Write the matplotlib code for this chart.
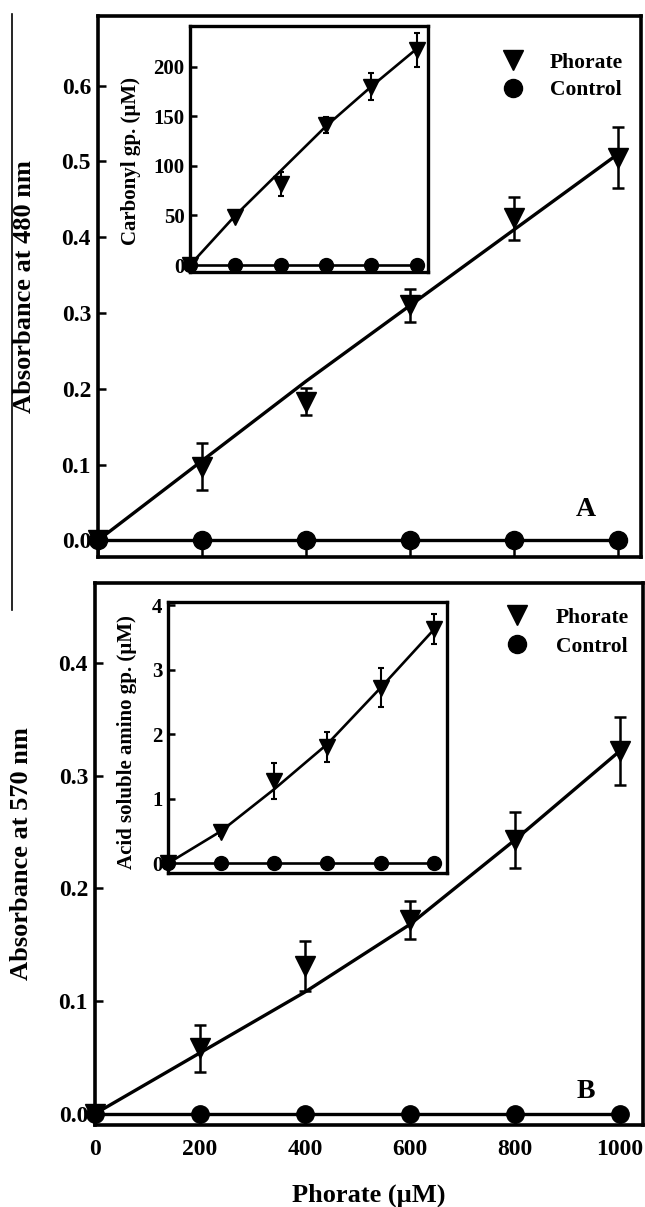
import numpy as np
import matplotlib
matplotlib.use("Agg")
import matplotlib.pyplot as plt
from matplotlib.lines import Line2D

plt.rcParams['font.family'] = ['Liberation Serif', 'DejaVu Serif']
plt.rcParams['font.weight'] = 'bold'

# phorate concentration (uM)
conc = [0, 200, 400, 600, 800, 1000]

# A : absorbance at 480 nm
absA = [0.0, 0.097, 0.183, 0.310, 0.425, 0.505]
errA = [0.0, 0.031, 0.018, 0.022, 0.028, 0.040]
fitA = [0.0, 0.105, 0.210, 0.310, 0.410, 0.510]
ctrlA = [0.0, 0.0, 0.0, 0.0, 0.0, 0.0]

# inset A : carbonyl groups (uM)
carb = [0, 48, 82, 141, 180, 217]
carb_err = [0, 3, 12, 8, 14, 17]
carb_fit = [0, 50, 95, 140, 180, 218]
carb_ctrl = [0, 0, 0, 0, 0, 0]

# B : absorbance at 570 nm
absB = [0.0, 0.058, 0.131, 0.172, 0.243, 0.322]
errB = [0.0, 0.021, 0.022, 0.017, 0.025, 0.030]
fitB = [0.0, 0.054, 0.108, 0.168, 0.243, 0.322]
ctrlB = [0.0, 0.0, 0.0, 0.0, 0.0, 0.0]

# inset B : acid soluble amino groups (uM)
amino = [0, 0.48, 1.28, 1.80, 2.72, 3.63]
amino_err = [0, 0.05, 0.28, 0.23, 0.30, 0.23]
amino_fit = [0, 0.50, 1.15, 1.85, 2.72, 3.62]
amino_ctrl = [0, 0, 0, 0, 0, 0]


def courbe(ax, y, err, fit, ctrl, mt, mc, lw, elw, cap):
    ax.plot(conc, fit, 'k-', lw=lw, zorder=2)
    ax.plot(conc, ctrl, 'k-', lw=lw, zorder=2)
    ax.errorbar(conc, y, yerr=err, fmt='none', ecolor='k', elinewidth=elw,
                capsize=cap, capthick=elw, zorder=3, clip_on=False)
    ax.plot(conc, ctrl, 'ko', ms=mc, zorder=4, clip_on=False)
    ax.plot(conc, y, 'kv', ms=mt, zorder=5, clip_on=False)


def cadre(ax, lw, tl, size, pad):
    for s in ax.spines.values():
        s.set_linewidth(lw)
    ax.tick_params(direction='in', length=tl, width=1.8, labelsize=size, pad=pad,
                   top=False, right=False)
    for lab in ax.get_xticklabels() + ax.get_yticklabels():
        lab.set_fontweight('bold')


fig = plt.figure(figsize=(6.45, 12.07), dpi=100)

axA = fig.add_axes([98/645, 1-557/1207, 543/645, 541/1207])
axB = fig.add_axes([95/645, 1-1125/1207, 548/645, 542/1207])
inA = fig.add_axes([190/645, 1-272/1207, 238/645, 246/1207])
inB = fig.add_axes([168/645, 1-873/1207, 279/645, 271/1207])

courbe(axA, absA, errA, fitA, ctrlA, 14.5, 13, 2.4, 1.8, 4)
courbe(axB, absB, errB, fitB, ctrlB, 14.5, 12.5, 2.4, 1.8, 4)
courbe(inA, carb, carb_err, carb_fit, carb_ctrl, 11.5, 10, 1.9, 1.5, 2.5)
courbe(inB, amino, amino_err, amino_fit, amino_ctrl, 11.5, 10, 1.9, 1.5, 2.5)

# axes principaux
for ax in (axA, axB):
    ax.set_xlim(0, 1044)
    ax.set_xticks(conc)
    cadre(ax, 2.6, 6, 17, 5)
    ax.tick_params(axis='x', pad=10)

axA.set_ylim(-0.022, 0.692)
axA.set_yticks([0, 0.1, 0.2, 0.3, 0.4, 0.5, 0.6])
axA.set_yticklabels(['0.0', '0.1', '0.2', '0.3', '0.4', '0.5', '0.6'])
axA.set_xticklabels([])
axA.set_ylabel('Absorbance at 480 nm', fontsize=19, fontweight='bold')
axA.yaxis.set_label_coords(-0.114, 0.5)

axB.set_ylim(-0.01, 0.471)
axB.set_yticks([0, 0.1, 0.2, 0.3, 0.4])
axB.set_yticklabels(['0.0', '0.1', '0.2', '0.3', '0.4'])
axB.set_xticklabels(['0', '200', '400', '600', '800', '1000'])
axB.set_ylabel('Absorbance at 570 nm', fontsize=19, fontweight='bold')
axB.yaxis.set_label_coords(-0.113, 0.5)
axB.set_xlabel('Phorate (µM)', fontsize=19, fontweight='bold')
axB.xaxis.set_label_coords(0.5, -0.108)

axA.text(0.899, 0.087, 'A', transform=axA.transAxes, fontsize=20,
         fontweight='bold', ha='center', va='center')
axB.text(0.896, 0.061, 'B', transform=axB.transAxes, fontsize=20,
         fontweight='bold', ha='center', va='center')

# inserts
for ax in (inA, inB):
    ax.set_xlim(0, 1050)
    ax.set_xticks([])
    cadre(ax, 2.4, 5, 15, 4)

inA.set_ylim(-7, 241)
inA.set_yticks([0, 50, 100, 150, 200])
inA.set_ylabel('Carbonyl gp. (µM)', fontsize=15, fontweight='bold')
inA.yaxis.set_label_coords(-0.205, 0.45)

inB.set_ylim(-0.15, 4.05)
inB.set_yticks([0, 1, 2, 3, 4])
inB.set_ylabel('Acid soluble amino gp. (µM)', fontsize=15, fontweight='bold')
inB.yaxis.set_label_coords(-0.112, 0.485)

# legendes
poignees = [Line2D([], [], color='k', marker='v', ls='none', ms=14.5),
            Line2D([], [], color='k', marker='o', ls='none', ms=13)]
axA.legend(poignees, ['Phorate', 'Control'], loc='upper left',
           bbox_to_anchor=(0.745, 0.932), frameon=False, borderpad=0,
           borderaxespad=0, handlelength=1.0, handletextpad=1.2,
           labelspacing=0.35, prop={'size': 15.5, 'weight': 'bold'})
axB.legend(poignees, ['Phorate', 'Control'], loc='upper left',
           bbox_to_anchor=(0.751, 0.954), frameon=False, borderpad=0,
           borderaxespad=0, handlelength=1.0, handletextpad=1.3,
           labelspacing=0.4, prop={'size': 15.5, 'weight': 'bold'})

# trait vertical a gauche
fig.add_artist(Line2D([12/645, 12/645], [1-14/1207, 1-610/1207],
                      transform=fig.transFigure, color='k', lw=1.2))

fig.savefig('out.png', dpi=100)
